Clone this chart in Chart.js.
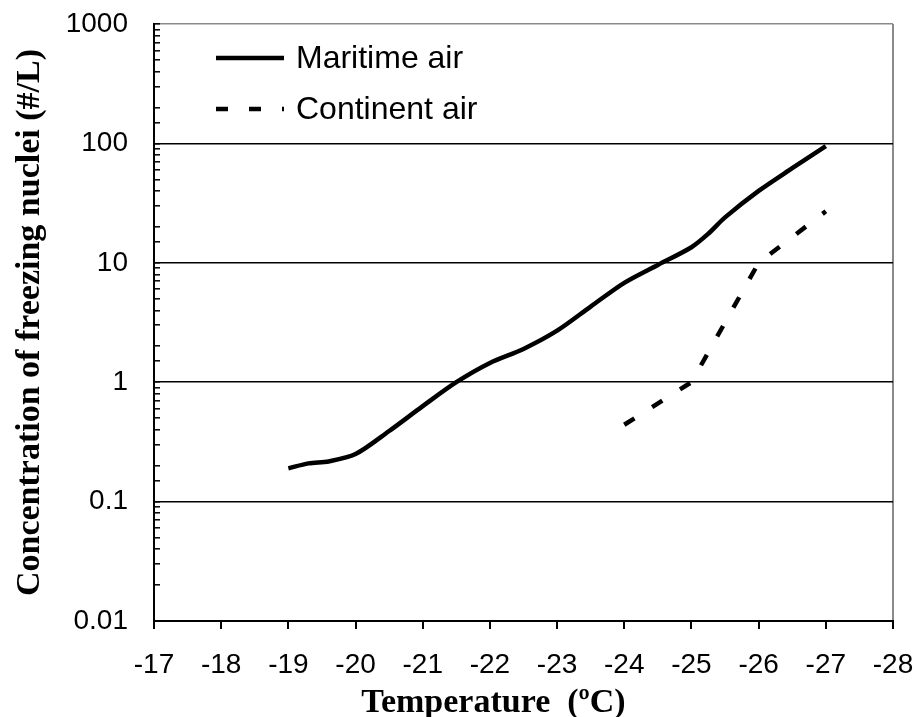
<!DOCTYPE html>
<html>
<head>
<meta charset="utf-8">
<script src="https://cdn.jsdelivr.net/npm/chart.js@4/dist/chart.umd.min.js"></script>
<style>
  html, body { margin: 0; padding: 0; background: #fff; }
  #wrap { width: 917px; height: 717px; }
</style>
</head>
<body>
<div id="wrap"><canvas id="c" width="917" height="717"></canvas></div>
<script>
// ---- data ----
const maritimeTemp = [-19, -19.3, -19.6, -20, -20.5, -21, -21.5, -22, -22.5, -23, -23.5, -24, -24.5, -25, -25.25, -25.5, -26, -26.5, -27];
const maritimeConc = [0.19, 0.209, 0.217, 0.25, 0.39, 0.63, 1.0, 1.45, 1.9, 2.7, 4.3, 6.8, 9.6, 13.5, 17.5, 24, 40, 62, 95];
const continentTemp = [-24, -25, -26, -27];
const continentConc = [0.44, 1.0, 10, 27];
const seriesNames = ['Maritime air', 'Continent air'];
const xTickValues = [-17, -18, -19, -20, -21, -22, -23, -24, -25, -26, -27, -28];
const yTickLabels = ['0.01', '0.1', '1', '10', '100', '1000'];
const xTitle = 'Temperature  (\u00BAC)';
const yTitle = 'Concentration of freezing nuclei (#/L)';

const SANS = '"Liberation Sans", Arial, sans-serif';
const SERIF = '"Liberation Serif", "Times New Roman", serif';
Chart.defaults.font.family = SANS;
Chart.defaults.color = '#000';

function toPoints(xs, ys) { return xs.map((x, i) => ({ x: x, y: ys[i] })); }
function decadeIndex(v) {
  const l = Math.log10(v);
  const r = Math.round(l);
  return Math.abs(l - r) < 1e-6 ? r + 2 : -1;
}

const legendPlugin = {
  id: 'insideLegend',
  afterDraw(chart) {
    const ctx = chart.ctx;
    const a = chart.chartArea;
    const rows = [a.top + 34, a.top + 85];
    chart.data.datasets.forEach((ds, i) => {
      const y = rows[i];
      ctx.save();
      ctx.strokeStyle = ds.borderColor;
      ctx.lineWidth = ds.borderWidth;
      ctx.lineCap = 'butt';
      ctx.setLineDash(ds.borderDash || []);
      ctx.beginPath();
      ctx.moveTo(a.left + 62, y);
      ctx.lineTo(a.left + 130, y);
      ctx.stroke();
      ctx.setLineDash([]);
      ctx.fillStyle = '#000';
      ctx.font = '32px ' + SANS;
      ctx.textAlign = 'left';
      ctx.textBaseline = 'middle';
      ctx.fillText(ds.label, a.left + 142, y + 1);
      ctx.restore();
    });
  }
};

const xTitlePlugin = {
  id: 'xTitle',
  afterDraw(chart) {
    const ctx = chart.ctx;
    const a = chart.chartArea;
    ctx.save();
    ctx.fillStyle = '#000';
    ctx.font = 'bold 34px ' + SERIF;
    ctx.textAlign = 'center';
    ctx.textBaseline = 'alphabetic';
    ctx.fillText(xTitle, (a.left + a.right) / 2 - 30, chart.height - 5);
    ctx.restore();
  }
};

new Chart(document.getElementById('c'), {
  type: 'line',
  data: {
    datasets: [
      {
        label: seriesNames[0],
        data: toPoints(maritimeTemp, maritimeConc),
        borderColor: '#000',
        borderWidth: 4.5,
        pointRadius: 0,
        tension: 0.3,
        fill: false
      },
      {
        label: seriesNames[1],
        data: toPoints(continentTemp, continentConc),
        borderColor: '#000',
        borderWidth: 4.5,
        borderDash: [12, 21],
        borderCapStyle: 'butt',
        pointRadius: 0,
        tension: 0,
        fill: false
      }
    ]
  },
  options: {
    responsive: false,
    animation: false,
    layout: { padding: { top: 24, right: 24, left: 0, bottom: 0 } },
    plugins: { legend: { display: false }, tooltip: { enabled: false }, title: { display: false } },
    scales: {
      x: {
        type: 'linear',
        reverse: true,
        min: -28,
        max: -17,
        afterBuildTicks(scale) { scale.ticks = xTickValues.map(v => ({ value: v })); },
        afterFit(scale) {
          scale.height = 96;
          scale.paddingLeft = 0; scale.paddingRight = 0;
          scale.paddingTop = 0; scale.paddingBottom = 0;
        },
        ticks: {
          autoSkip: false,
          maxRotation: 0,
          padding: 19,
          font: { size: 28 },
          color: '#000',
          callback: v => String(v)
        },
        grid: {
          drawOnChartArea: true,
          drawTicks: true,
          tickLength: 8,
          lineWidth: 2,
          tickWidth: 2,
          tickColor: '#000',
          color: ctx => (ctx.tick && ctx.tick.value === -28) ? '#8a8a8a' : 'rgba(0,0,0,0)'
        },
        border: { display: true, color: '#000', width: 2 },
        title: { display: false }
      },
      y: {
        type: 'logarithmic',
        min: 0.01,
        max: 1000,
        afterFit(scale) {
          scale.width = 154;
          scale.paddingLeft = 0; scale.paddingRight = 0;
          scale.paddingTop = 0; scale.paddingBottom = 0;
        },
        ticks: {
          autoSkip: false,
          padding: 32,
          font: { size: 28 },
          color: '#000',
          callback: v => { const i = decadeIndex(v); return i >= 0 ? yTickLabels[i] : ''; }
        },
        grid: {
          drawOnChartArea: true,
          drawTicks: true,
          tickLength: -6,
          lineWidth: 1.6,
          tickWidth: 1.5,
          tickColor: '#000',
          color: ctx => {
            if (!ctx.tick) return 'rgba(0,0,0,0)';
            const i = decadeIndex(ctx.tick.value);
            if (i === yTickLabels.length - 1) return '#8a8a8a';
            return i >= 0 ? '#000' : 'rgba(0,0,0,0)';
          }
        },
        border: { display: true, color: '#000', width: 2 },
        title: {
          display: true,
          text: yTitle,
          font: { family: SERIF, size: 34, weight: 'bold' },
          color: '#000',
          padding: { top: 10, bottom: 0 }
        }
      }
    }
  },
  plugins: [legendPlugin, xTitlePlugin]
});
</script>
</body>
</html>
